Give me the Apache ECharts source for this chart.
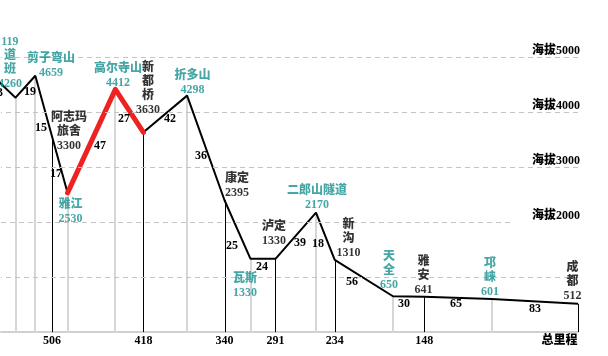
<!DOCTYPE html>
<html><head><meta charset="utf-8">
<script src="https://cdn.jsdelivr.net/npm/echarts@6/dist/echarts.min.js"></script>
<style>html,body{margin:0;padding:0;background:#fff}#c{width:608px;height:356px}</style>
</head><body><div id="c"></div>
<script>
// ---------------- data ----------------
const stops     = ['119道班','剪子弯山','阿志玛旅舍','雅江','高尔寺山','新都桥','折多山','康定','瓦斯','泸定','二郎山隧道','新沟','天全','雅安','邛崃','成都'];
const remainKm  = [541,522,506,491,445,418,376,340,315,291,252,234,178,148,83,0];   // km left to 成都
const altitude  = [4260,4659,3300,2530,4412,3630,4298,2395,1330,1330,2170,1310,650,641,601,512];
const onProfile = [1,1,0,1,1,1,1,1,1,1,1,1,1,1,1,1];   // 阿志玛旅舍 sits on a slope, not a vertex
const azmDropTop = 3560;            // where 阿志玛旅舍's drop line meets the profile
const leadIn    = [560, 4600];      // previous vertex, beyond the left edge
const leadInKm  = '13';
const segmentKm = [19,15,17,47,27,42,36,25,24,39,18,56,30,65,83];
const tickKm    = [506,418,340,291,234,148,0];
const altLabels = [2000,3000,4000,5000];
const gridAlts  = [1000,3000,4000,5000];
const shortGridAlt = 2000, shortGridEndKm = 65;
const highlight = ['雅江','高尔寺山','新都桥'];

// ---------------- layout / style ----------------
const TEAL = '#17908f';
const FONT = "'Liberation Serif','Noto Sans CJK SC',serif";
const WEIGHT = 900;
const wrap = [[3,1,1],[4],[3,2],[2],[4],[1,1,1],[3],[2],[2],[2],[5],[1,1],[1,1],[1,1],[1,1],[1,1]];
const labelOffset = [[-5.6,-35],[15.7,-10.3],[17,-18.5],[3,18.6],[2.6,-13.3],[4.6,-43.4],[5.4,-13.1],[12.5,-14.8],[-5.5,26.6],[-1.5,-24.9],[1,-14.7],[13.8,-21],[-4,-25.3],[-0.6,-21.2],[-1.7,-21.4],[-5.5,-21.8]];
const segOffset = [[4.5,5.3],[-2.6,14.9],[-3.8,2.3],[8.5,4.9],[-5.4,8.2],[4.75,5],[-4.8,8],[-5.5,16.4],[-1,8.15],[4.25,7.25],[-7.35,7.7],[-11.85,3.9],[-4.55,7.5],[-1.9,6.2],[0.15,7.65]];
const leadOffset = [-8.7,4.65];

// ---------------- build ----------------
const isTick = remainKm.map(d => tickKm.indexOf(d) >= 0);
const profile = [leadIn].concat(stops.map((s,i)=>onProfile[i]?[remainKm[i],altitude[i]]:null).filter(Boolean));
const red = highlight.map(n => { const i = stops.indexOf(n); return [remainKm[i], altitude[i]]; });
const labelText = stops.map((s,i) => {
  const parts = []; let p = 0;
  wrap[i].forEach(n => { parts.push(s.slice(p,p+n)); p += n; });
  return parts.join('\n') + '\n' + altitude[i];
});
const drops = stops.map((s,i) => [remainKm[i], onProfile[i]?altitude[i]:azmDropTop, isTick[i]?1:0]);
const segData = [[leadIn[0],leadIn[1],remainKm[0],altitude[0],-1]].concat(
  segmentKm.map((k,i)=>[remainKm[i],altitude[i],remainKm[i+1],altitude[i+1],i]));

const chart = echarts.init(document.getElementById('c'));
chart.setOption({
  animation:false,
  backgroundColor:'#fff',
  grid:{left:1,right:30,top:2,bottom:24},
  xAxis:{type:'value',min:0,max:555,inverse:true,
    axisLine:{show:true,lineStyle:{color:'#d0d0d0',width:2}},
    axisTick:{show:false},splitLine:{show:false},
    axisLabel:{customValues:tickKm,margin:3,color:'#000',fontWeight:WEIGHT,fontSize:12,fontFamily:FONT,
      formatter:v=> v===0?'{r|总里程}':String(v),
      rich:{r:{padding:[0,37,0,0],fontWeight:WEIGHT,fontSize:12,fontFamily:FONT,color:'#000'}}}},
  yAxis:{type:'value',min:0,max:6000,position:'right',
    axisLine:{show:false},axisTick:{show:false},splitLine:{show:false},
    axisLabel:{customValues:altLabels,inside:true,margin:-2,verticalAlign:'bottom',color:'#000',
      fontWeight:WEIGHT,fontSize:12,fontFamily:FONT,formatter:v=>'海拔'+v}},
  series:[
    {type:'custom',silent:true,clip:false,z:1,data:drops,encode:{x:0,y:1},
      renderItem:(params,api)=>{
        const t=api.coord([api.value(0),api.value(1)]), b=api.coord([api.value(0),0]);
        const tick=api.value(2)===1;
        const x=tick?Math.round(t[0])+0.5:Math.round(t[0]);
        return {type:'line',shape:{x1:x,y1:t[1],x2:x,y2:b[1]},
          style:{stroke:tick?'#000':'#d6d6d6',lineWidth:tick?1:2}};
      }},
    {type:'line',silent:true,clip:false,z:3,data:profile,symbol:'none',
      lineStyle:{color:'#000',width:2},
      markLine:{silent:true,symbol:'none',label:{show:false},
        lineStyle:{type:[5,4],color:'#c4c4c4',width:1},
        data:gridAlts.map(a=>({yAxis:a})).concat([[{coord:[555,shortGridAlt]},{coord:[shortGridEndKm,shortGridAlt]}]])}},
    {type:'line',silent:true,clip:false,z:4,data:red,symbol:'none',
      lineStyle:{color:'#ee2222',width:5,cap:'round',join:'round'}},
    {type:'scatter',silent:true,z:5,symbolSize:0,itemStyle:{color:'rgba(0,0,0,0)'},
      data:stops.map((s,i)=>({value:[remainKm[i],altitude[i]],
        label:{offset:labelOffset[i],color:isTick[i]?'#000':TEAL}})),
      label:{show:true,position:'inside',formatter:p=>labelText[p.dataIndex],
        fontFamily:FONT,fontWeight:WEIGHT,fontSize:12,lineHeight:14,align:'center',verticalAlign:'middle'}},
    {type:'custom',silent:true,clip:false,z:6,data:segData,encode:{x:[0,2],y:[1,3]},
      renderItem:(params,api)=>{
        const a=api.coord([api.value(0),api.value(1)]), b=api.coord([api.value(2),api.value(3)]);
        const k=api.value(4);
        const off=k<0?leadOffset:segOffset[k];
        return {type:'text',x:(a[0]+b[0])/2+off[0],y:(a[1]+b[1])/2+off[1],
          style:{text:k<0?leadInKm:String(segmentKm[k]),align:'center',verticalAlign:'middle',
            font:WEIGHT+" 12px "+FONT,fill:'#000'}};
      }}
  ]
});
</script></body></html>
